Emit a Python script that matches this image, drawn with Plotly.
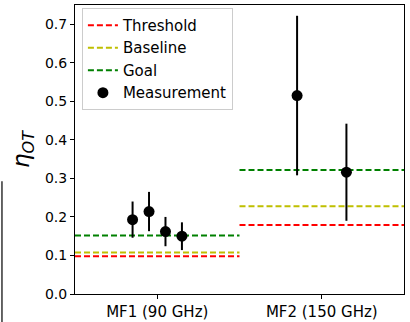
import plotly.graph_objects as go

# Frequency bands and their requirement levels
bands = ["MF1 (90 GHz)", "MF2 (150 GHz)"]
threshold = [0.098, 0.179]
baseline = [0.108, 0.228]
goal = [0.152, 0.322]

# Measured optical efficiencies per band
meas_band = [0, 0, 0, 0, 1, 1]
meas_offset = [-0.15, -0.05, 0.05, 0.15, -0.15, 0.15]
meas_value = [0.193, 0.214, 0.162, 0.150, 0.515, 0.316]
meas_err = [0.047, 0.051, 0.038, 0.036, 0.207, 0.126]

font = "DejaVu Sans"
fig = go.Figure()


def level_trace(name, values, color):
    xs, ys = [], []
    for i, v in enumerate(values):
        xs += [i - 0.5, i + 0.5, None]
        ys += [v, v, None]
    return go.Scatter(
        x=xs, y=ys, mode="lines", name=name,
        line=dict(color=color, width=2, dash="6px,3px"),
    )


fig.add_trace(level_trace("Threshold", threshold, "#ff0000"))
fig.add_trace(level_trace("Baseline", baseline, "#bfbf00"))
fig.add_trace(level_trace("Goal", goal, "#008000"))

fig.add_trace(go.Scatter(
    x=[b + o for b, o in zip(meas_band, meas_offset)],
    y=meas_value,
    mode="markers",
    name="Measurement",
    marker=dict(color="black", size=11),
    error_y=dict(type="data", array=meas_err, color="black", thickness=2, width=0),
))

axis_common = dict(
    showline=True, linecolor="black", linewidth=1, mirror=True,
    ticks="outside", ticklen=4, tickcolor="black",
    showgrid=False, zeroline=False, automargin=False,
)

fig.update_layout(
    width=410, height=322,
    margin=dict(l=75, r=6, t=5, b=28),
    plot_bgcolor="white", paper_bgcolor="white",
    font=dict(family=font, size=14, color="black"),
    showlegend=True,
    legend=dict(
        x=0.021, y=0.99, xanchor="left", yanchor="top",
        itemwidth=30,
        bgcolor="rgba(255,255,255,0.8)", bordercolor="#cccccc", borderwidth=1,
        font=dict(family=font, size=15, color="black"),
    ),
    xaxis=dict(
        range=[-0.5, 1.5], tickvals=[0, 1], ticktext=bands,
        tickfont=dict(family=font, size=15, color="black"),
        ticklabelstandoff=0,
        **axis_common
    ),
    yaxis=dict(
        range=[0, 0.75], tickvals=[0, 0.1, 0.2, 0.3, 0.4, 0.5, 0.6, 0.7],
        tickformat=".1f",
        tickfont=dict(family=font, size=14, color="black"),
        title=dict(text="<i>η<sub>OT</sub></i>", font=dict(family=font, size=23), standoff=8),
        **axis_common
    ),
)

# Thin vertical rule along the left edge of the figure
fig.add_shape(
    type="line", xref="paper", yref="paper",
    x0=-0.222, x1=-0.222, y0=0.39, y1=-0.2,
    line=dict(color="#333333", width=1.5),
)

fig.write_html("out.html")
